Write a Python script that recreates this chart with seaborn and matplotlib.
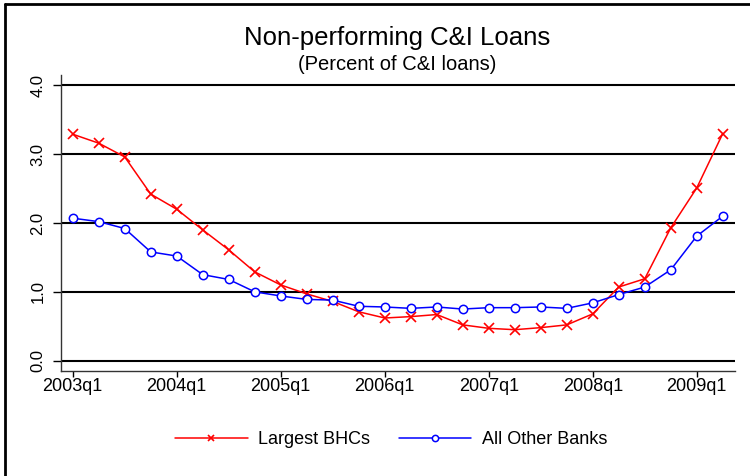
import numpy as np
import pandas as pd
import matplotlib
matplotlib.use("Agg")
import matplotlib.pyplot as plt
import seaborn as sns
from matplotlib.lines import Line2D

# quarterly data, 2003q1 - 2009q2
quarters = [f"{y}q{q}" for y in range(2003, 2010) for q in range(1, 5)][:26]
largest_bhcs = [3.29, 3.16, 2.96, 2.42, 2.20, 1.90, 1.61, 1.29, 1.10, 0.97,
                0.86, 0.71, 0.62, 0.64, 0.67, 0.52, 0.47, 0.45, 0.48, 0.52,
                0.68, 1.07, 1.19, 1.93, 2.51, 3.30]
other_banks = [2.07, 2.02, 1.92, 1.58, 1.52, 1.25, 1.18, 1.00, 0.94, 0.89,
               0.88, 0.79, 0.78, 0.76, 0.78, 0.75, 0.77, 0.77, 0.78, 0.76,
               0.84, 0.96, 1.07, 1.32, 1.81, 2.10]
tick_labels = ["2003q1", "2004q1", "2005q1", "2006q1", "2007q1", "2008q1", "2009q1"]
y_ticks = [0.0, 1.0, 2.0, 3.0, 4.0]

df = pd.DataFrame({"t": np.arange(len(quarters)),
                   "Largest BHCs": largest_bhcs,
                   "All Other Banks": other_banks})

sns.set_style("white")
plt.rcParams["font.family"] = ["Liberation Sans", "DejaVu Sans"]
plt.rcParams["text.color"] = "black"
plt.rcParams["xtick.color"] = "black"
plt.rcParams["ytick.color"] = "black"

fig = plt.figure(figsize=(7.5, 4.76), dpi=100)
ax = fig.add_axes([0.081, 0.2206, 0.899, 0.6218])

# horizontal reference lines
for v in y_ticks:
    ax.axhline(v, color="black", lw=1.5, zorder=1)

sns.lineplot(data=df, x="t", y="Largest BHCs", ax=ax, color="red", lw=1.1,
             marker="x", markersize=6.5, markeredgewidth=1.2, markeredgecolor="red", zorder=3)
sns.lineplot(data=df, x="t", y="All Other Banks", ax=ax, color="blue", lw=1.1,
             marker="o", markersize=6, markeredgewidth=1.1, markeredgecolor="blue",
             markerfacecolor="white", zorder=4)

ax.set_xlim(-0.46, 25.47)
ax.set_ylim(-0.15, 4.15)
ax.set_xticks([tick_labels.index(l) * 4 for l in tick_labels])
ax.set_xticklabels(tick_labels, fontsize=13)
ax.set_yticks(y_ticks)
ax.set_yticklabels([f"{v:.1f}" for v in y_ticks], fontsize=12, rotation=90, va="center")
ax.tick_params(axis="y", direction="out", length=6, width=1, pad=5, left=True)
ax.tick_params(axis="x", direction="out", length=4, width=1, pad=1, bottom=True)
ax.set_xlabel("")
ax.set_ylabel("")
for s in ["top", "right"]:
    ax.spines[s].set_visible(False)
for s in ["left", "bottom"]:
    ax.spines[s].set_color("#333333")
    ax.spines[s].set_linewidth(1)

fig.text(0.53, 0.92, "Non-performing C&I Loans", ha="center", va="center", fontsize=18.5)
fig.text(0.53, 0.865, "(Percent of C&I loans)", ha="center", va="center", fontsize=14.5)

handles = [Line2D([], [], color="red", lw=1.1, marker="x", markersize=5, markeredgewidth=1.2),
           Line2D([], [], color="blue", lw=1.1, marker="o", markersize=4.5,
                  markerfacecolor="white", markeredgewidth=1.1)]
fig.legend(handles, ["Largest BHCs", "All Other Banks"], loc="center",
           bbox_to_anchor=(0.522, 0.076), ncol=2, frameon=False, fontsize=13,
           handlelength=4, handletextpad=0.6, columnspacing=1.6)

# outer frame (top and left edges)
fig.add_artist(Line2D([0.006, 1.0], [0.991, 0.991], color="black", lw=2, transform=fig.transFigure))
fig.add_artist(Line2D([0.006, 0.006], [0.0, 0.991], color="black", lw=2, transform=fig.transFigure))

fig.savefig("out.png", dpi=100)
